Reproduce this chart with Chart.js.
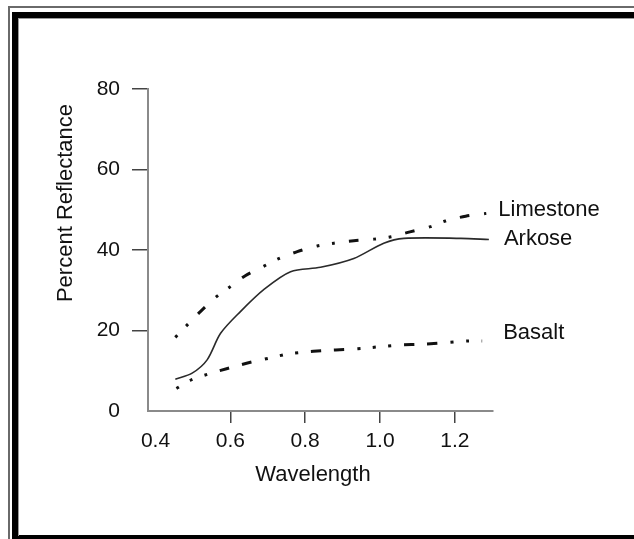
<!DOCTYPE html>
<html>
<head>
<meta charset="utf-8">
<script src="https://cdn.jsdelivr.net/npm/chart.js@4"></script>
<style>
  html, body { margin: 0; padding: 0; background: #fff; width: 634px; height: 539px; overflow: hidden; }
  .frame-outer { position: absolute; left: 8px; top: 6px; width: 700px; height: 700px;
    border-left: 2px solid #6a6a6a; border-top: 2px solid #6a6a6a; }
  .frame-black { position: absolute; left: 12px; top: 12px; width: 700px; height: 517px;
    border-left: 6px solid #000; border-top: 6px solid #000; border-bottom: 6px solid #000; }
  .frame-inner { position: absolute; left: 18px; top: 18px; width: 700px; height: 517px;
    border-left: 1px solid #999; border-top: 1px solid #999; }
  #myChart { position: absolute; left: 0; top: 0; }
</style>
</head>
<body>
<div class="frame-outer"></div>
<div class="frame-black"></div>
<div class="frame-inner"></div>
<canvas id="myChart" width="634" height="539"></canvas>
<script>
// wavelength ticks and percent reflectance values
const xTicks = [0.4, 0.6, 0.8, 1.0, 1.2];
const yTicks = [0, 20, 40, 60, 80];

const limestoneX = [0.453, 0.483, 0.52, 0.563, 0.597, 0.64, 0.69, 0.728, 0.779, 0.832, 0.877, 0.93, 0.984, 1.03, 1.08, 1.135, 1.175, 1.229, 1.284];
const limestoneY = [18.3, 21.2, 24.7, 28.4, 30.7, 33.6, 36.0, 37.8, 39.6, 41.0, 41.7, 42.3, 42.7, 43.3, 44.5, 45.8, 47.2, 48.4, 49.1];

const arkoseX = [0.453, 0.498, 0.538, 0.574, 0.627, 0.69, 0.761, 0.841, 0.93, 1.01, 1.064, 1.216, 1.291];
const arkoseY = [7.9, 9.4, 12.7, 19.3, 24.7, 30.2, 34.6, 35.7, 37.9, 41.7, 42.9, 42.9, 42.6];

const basaltX = [0.456, 0.495, 0.538, 0.59, 0.654, 0.707, 0.75, 0.794, 0.85, 0.913, 0.969, 1.013, 1.055, 1.113, 1.175, 1.232, 1.273];
const basaltY = [5.6, 7.7, 9.1, 10.5, 12.1, 13.2, 14.1, 14.6, 15.0, 15.3, 15.7, 16.1, 16.4, 16.6, 17.0, 17.4, 17.4];

const seriesNames = ['Limestone', 'Arkose', 'Basalt'];
const textColor = '#111';
const fontFamily = '"Liberation Sans", Arial, sans-serif';

const toPoints = (xs, ys) => xs.map((v, i) => ({x: v, y: ys[i]}));

// where the end labels sit, relative to the last point of each line
const labelOffsets = [[12, -3], [15, -1], [21, -8]];

const textPlugin = {
  id: 'textLabels',
  afterDatasetsDraw(chart) {
    const {ctx, scales: {x, y}} = chart;
    ctx.save();
    ctx.fillStyle = textColor;
    ctx.font = '22px ' + fontFamily;
    ctx.textBaseline = 'middle';
    ctx.textAlign = 'left';
    chart.data.datasets.forEach((ds, i) => {
      const last = ds.data[ds.data.length - 1];
      const px = x.getPixelForValue(last.x) + labelOffsets[i][0];
      const py = y.getPixelForValue(last.y) + labelOffsets[i][1];
      ctx.fillText(ds.label, px, py);
    });
    ctx.textAlign = 'center';
    ctx.fillText('Wavelength', 313, 475);
    ctx.translate(66, 203);
    ctx.rotate(-Math.PI / 2);
    ctx.fillText('Percent Reflectance', 0, 0);
    ctx.restore();
  }
};

const ctx = document.getElementById('myChart');

new Chart(ctx, {
  type: 'line',
  data: {
    datasets: [{
      label: seriesNames[0],
      data: toPoints(limestoneX, limestoneY),
      borderColor: '#111',
      borderWidth: 3,
      borderDash: [3, 12.5, 3, 14, 10, 14.5],
      tension: 0.3,
      pointRadius: 0
    }, {
      label: seriesNames[1],
      data: toPoints(arkoseX, arkoseY),
      borderColor: '#2a2a2a',
      borderWidth: 1.6,
      tension: 0.3,
      pointRadius: 0
    }, {
      label: seriesNames[2],
      data: toPoints(basaltX, basaltY),
      borderColor: '#111',
      borderWidth: 3,
      borderDash: [3, 12.5, 3, 12.5, 3, 13, 10, 13, 10, 13.5],
      tension: 0.3,
      pointRadius: 0
    }]
  },
  options: {
    responsive: false,
    animation: false,
    devicePixelRatio: 1,
    layout: {
      padding: {left: 0, top: 89, right: 141, bottom: 0}
    },
    plugins: {
      legend: {display: false},
      tooltip: {enabled: false}
    },
    scales: {
      x: {
        type: 'linear',
        min: 0.38,
        max: 1.302,
        afterBuildTicks: scale => { scale.ticks = xTicks.map(v => ({value: v})); },
        afterFit: scale => { scale.height = 128; },
        ticks: {
          color: textColor,
          font: {family: fontFamily, size: 21},
          padding: 6,
          maxRotation: 0,
          callback: v => Number(v).toFixed(1)
        },
        grid: {
          drawOnChartArea: false,
          drawTicks: true,
          tickLength: 12,
          lineWidth: 1.5,
          color: c => (c.tick && c.tick.value === 0.4) ? 'rgba(0,0,0,0)' : '#444'
        },
        border: {color: '#8a8a8a', width: 2}
      },
      y: {
        min: 0,
        max: 80,
        afterBuildTicks: scale => { scale.ticks = yTicks.map(v => ({value: v})); },
        afterFit: scale => { scale.width = 148; },
        ticks: {
          color: textColor,
          font: {family: fontFamily, size: 21},
          padding: 12
        },
        grid: {
          drawOnChartArea: false,
          drawTicks: true,
          tickLength: 16,
          lineWidth: 1.5,
          color: c => (c.tick && c.tick.value === 0) ? 'rgba(0,0,0,0)' : '#444'
        },
        border: {color: '#8a8a8a', width: 2}
      }
    }
  },
  plugins: [textPlugin]
});
</script>
</body>
</html>
